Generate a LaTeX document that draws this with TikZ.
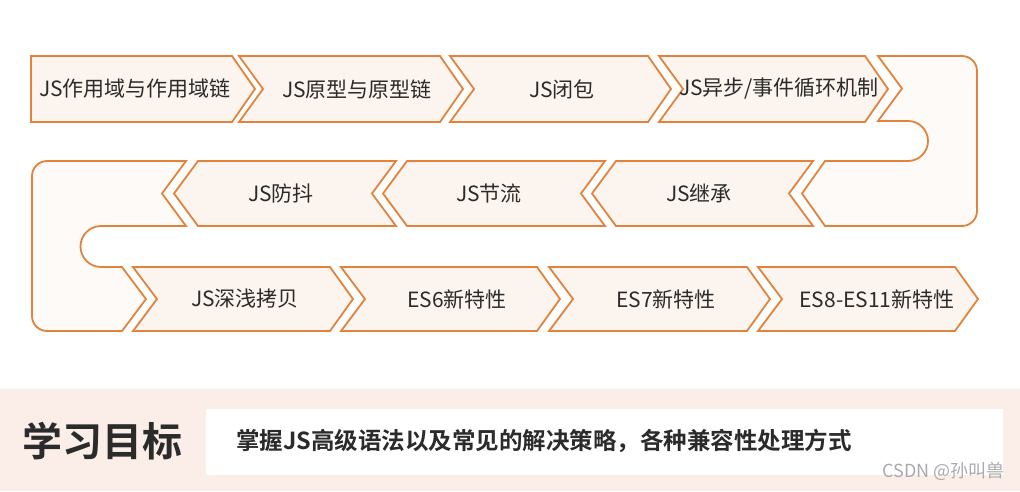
\documentclass[tikz,border=0pt]{standalone}
\usepackage{fontspec}
\setmainfont{Noto Sans CJK SC}
\newfontfamily\cjkbold[BoldFont={Noto Sans CJK SC Bold}]{Noto Sans CJK SC}
\definecolor{edge}{HTML}{E3833B}
\definecolor{boxfill}{HTML}{FCF4EE}
\definecolor{ufill}{HTML}{FEFAF7}
\definecolor{band}{HTML}{FBEEE8}
\definecolor{ink}{HTML}{2B2B2B}
\definecolor{wm}{HTML}{AAAAAA}
\tikzset{
  arrowbox/.style={draw=edge, fill=boxfill, line width=1.8pt, line join=miter},
  ushape/.style={draw=edge, fill=ufill, line width=1.8pt, line join=miter},
  boxtext/.style={text=ink, font=\fontsize{21}{24}\selectfont, inner sep=0pt},
}
% right-pointing box: x0, top-right x, y top, y bottom
\newcommand{\rarrow}[4]{%
  \draw[arrowbox] (#1,#3) -- (#2,#3) -- ({#2+23},{(#3+#4)/2}) -- (#2,#4) -- (#1,#4) -- ({#1+24},{(#3+#4)/2}) -- cycle;}
% left-pointing box: left-top x, right-top x, y top, y bottom
\newcommand{\larrow}[4]{%
  \draw[arrowbox] (#1,#3) -- (#2,#3) -- ({#2-24},{(#3+#4)/2}) -- (#2,#4) -- (#1,#4) -- ({#1-24},{(#3+#4)/2}) -- cycle;}
\begin{document}
\begin{tikzpicture}[x=1pt,y=-1pt]
\useasboundingbox (0,0) rectangle (1020,491);
\fill[white] (0,0) rectangle (1020,491);

% U-turn shapes
\draw[ushape] (878,56) -- (962,56) arc[start angle=-90,end angle=0,radius=15]
  -- (977,211) arc[start angle=0,end angle=90,radius=15]
  -- (825,226) -- (802,193.5) -- (825,161) -- (908,161)
  arc[start angle=90,end angle=-90,radius=20] -- (878,121) -- (902,88.5) -- cycle;
\draw[ushape] (186,161) -- (162,193.5) -- (186,226) -- (101,226)
  arc[start angle=-90,end angle=-270,radius=20.5]
  -- (122,267) -- (146,299) -- (122,331) -- (47,331)
  arc[start angle=90,end angle=180,radius=15] -- (32,176)
  arc[start angle=180,end angle=270,radius=15] -- cycle;

% row 1
\draw[arrowbox] (31,56) -- (232,56) -- (255,89) -- (232,122) -- (31,122) -- cycle;
\rarrow{239}{440}{56}{122}
\rarrow{450}{648}{56}{122}
\rarrow{659}{865}{56}{122}
% row 2
\larrow{616}{813}{161}{226}
\larrow{407}{605}{161}{226}
\larrow{198}{396}{161}{226}
% row 3
\rarrow{133}{330}{267}{331}
\rarrow{341}{537}{267}{331}
\rarrow{549}{747}{267}{331}
\rarrow{758}{955}{267}{331}

% labels
\node[boxtext] (t1) at (135,89) {JS作用域与作用域链};
\node[boxtext] (t2) at (357,89) {JS原型与原型链};
\node[boxtext] (t3) at (562,89) {JS闭包};
\node[boxtext] (t4) at (779,89) {JS异步/事件循环机制};
\node[boxtext] (t5) at (699,193.5) {JS继承};
\node[boxtext] (t6) at (489,193.5) {JS节流};
\node[boxtext] (t7) at (281,193.5) {JS防抖};
\node[boxtext] (t8) at (245,299) {JS深浅拷贝};
\node[boxtext] (t9) at (457,299) {ES6新特性};
\node[boxtext] (t10) at (666,299) {ES7新特性};
\node[boxtext] (t11) at (877,299) {ES8-ES11新特性};

% bottom band
\fill[band] (0,389) rectangle (1020,491);
\fill[white] (206,409) rectangle (1003,475);
\node[text=ink, font=\cjkbold\bfseries\fontsize{40}{44}\selectfont, inner sep=0pt] (goal) at (102,441) {学习目标};
\node[text=ink, font=\cjkbold\bfseries\fontsize{23.5}{26}\selectfont, inner sep=0pt, anchor=west] (desc) at (236,441) {掌握JS高级语法以及常见的解决策略，各种兼容性处理方式};
\node[text=wm, font=\fontsize{18}{20}\selectfont, inner sep=0pt, anchor=east] (mark) at (1005,471) {CSDN @孙叫兽};
\end{tikzpicture}
\end{document}
